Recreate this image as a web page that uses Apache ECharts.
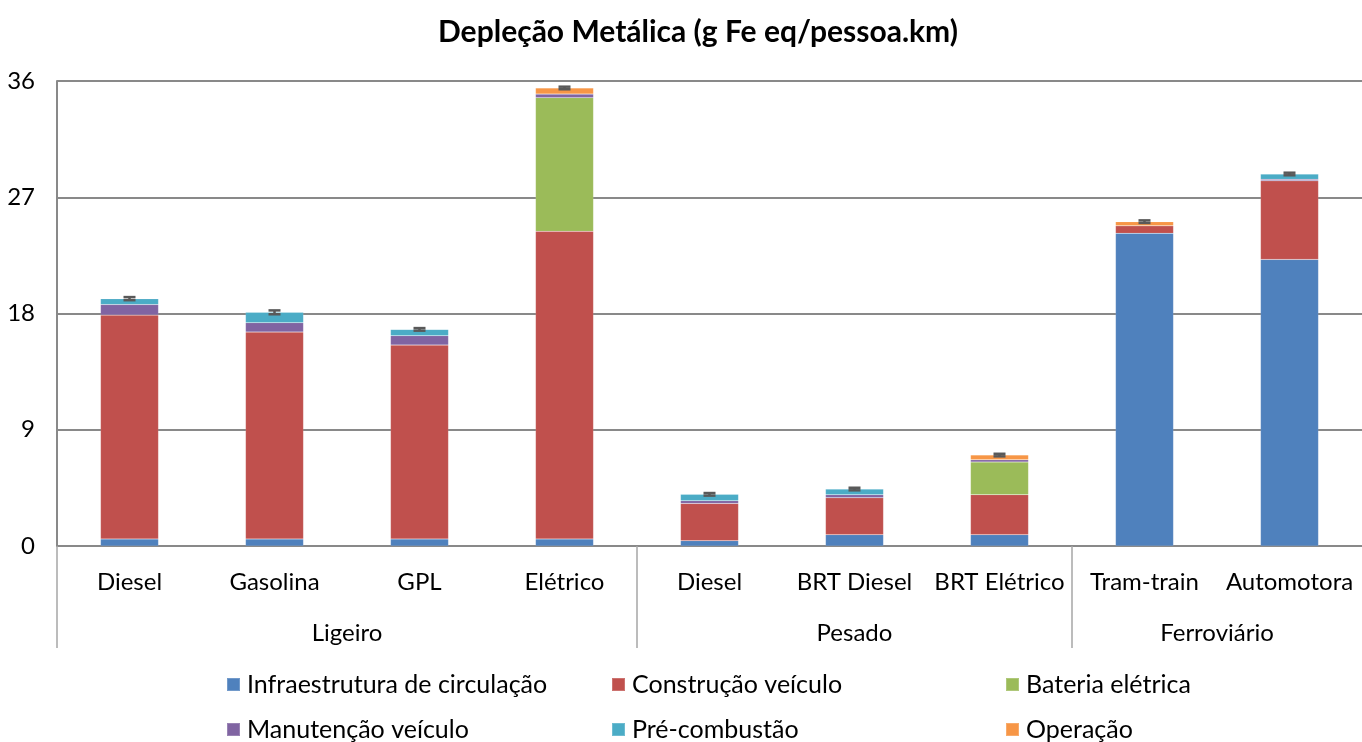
<!DOCTYPE html>
<html>
<head>
<meta charset="utf-8">
<script src="https://cdn.jsdelivr.net/npm/echarts@6/dist/echarts.min.js"></script>
<style>html,body{margin:0;padding:0;background:#fff;}#c{width:1362px;height:742px;}</style>
</head>
<body>
<div id="c"></div>
<script>
const categories = ['Diesel','Gasolina','GPL','Elétrico','Diesel','BRT Diesel','BRT Elétrico','Tram-train','Automotora'];
const groups = ['Ligeiro','Pesado','Ferroviário'];
const groupCenters = [2, 5.5, 8];
const groupBounds = [0, 4, 7];
const yTicks = [0, 9, 18, 27, 36];

const infraestrutura = [0.55,0.55,0.55,0.55,0.41,0.88,0.88,24.21,22.19];
const construcao     = [17.33,16.02,15.01,23.81,2.89,2.86,3.09,0.59,6.09];
const bateria        = [0,0,0,10.35,0,0,2.53,0,0];
const manutencao     = [0.81,0.72,0.72,0.28,0.21,0.23,0.18,0,0.11];
const precombustao   = [0.46,0.80,0.49,0,0.49,0.44,0,0,0.41];
const operacao       = [0,0,0,0.47,0,0,0.36,0.31,0];
const erro           = [0.12,0.15,0.10,0.10,0.10,0.10,0.10,0.10,0.10];

const seriesDefs = [
  ['Infraestrutura de circulação', infraestrutura, '#4F81BD'],
  ['Construção veículo', construcao, '#C0504D'],
  ['Bateria elétrica', bateria, '#9BBB59'],
  ['Manutenção veículo', manutencao, '#8064A2'],
  ['Pré-combustão', precombustao, '#4BACC6'],
  ['Operação', operacao, '#F79646']
];
const legendLefts = [221, 606, 1000, 221, 606, 1000];
const legendTops = [667, 667, 667, 712, 712, 712];
const totals = categories.map((_, i) => seriesDefs.reduce((s, d) => s + d[1][i], 0));

const FONT = 'Lato, "Noto Sans", sans-serif';
const chart = echarts.init(document.getElementById('c'));
const series = seriesDefs.map(d => ({
  name: d[0], type: 'bar', stack: 'total', data: d[1], barWidth: '40%',
  itemStyle: { color: d[2], borderColor: 'rgba(255,255,255,0.2)', borderWidth: 0.5 },
  xAxisIndex: 0, yAxisIndex: 0
}));
series.push({
  type: 'custom', name: 'erro', xAxisIndex: 0, yAxisIndex: 0, z: 10,
  data: categories.map((_, i) => [i, totals[i], erro[i]]),
  renderItem: function (params, api) {
    const i = api.value(0), t = api.value(1), e = api.value(2);
    const hi = api.coord([i, t + e]);
    const lo = api.coord([i, t - e]);
    const w = 6;
    const st = { stroke: '#595959', lineWidth: 2.5 };
    return { type: 'group', children: [
      { type: 'line', shape: { x1: hi[0], y1: hi[1], x2: lo[0], y2: lo[1] }, style: st },
      { type: 'line', shape: { x1: hi[0]-w, y1: hi[1], x2: hi[0]+w, y2: hi[1] }, style: st },
      { type: 'line', shape: { x1: lo[0]-w, y1: lo[1], x2: lo[0]+w, y2: lo[1] }, style: st }
    ]};
  }
});

const legends = seriesDefs.map((d, k) => ({
  left: legendLefts[k], top: legendTops[k],
  itemWidth: 13, itemHeight: 13, icon: 'rect', itemGap: 0,
  textStyle: { fontFamily: FONT, fontSize: 25, color: '#000', padding: [0, 0, 0, 2] },
  data: [d[0]]
}));

chart.setOption({
  animation: false,
  title: {
    text: 'Depleção Metálica (g Fe eq/pessoa.km)', left: 433, top: 12,
    textStyle: { fontFamily: FONT, fontSize: 30, fontWeight: 'bold', color: '#000' }
  },
  legend: legends,
  grid: { left: 57, right: 0, top: 81, bottom: 196, containLabel: false },
  xAxis: [
    {
      type: 'category', data: categories,
      axisLine: { show: true, lineStyle: { color: '#898989', width: 2 } },
      axisTick: { show: false },
      axisLabel: { interval: 0, margin: 24, fontFamily: FONT, fontSize: 24, color: '#000' }
    },
    {
      type: 'value', min: 0, max: 9, position: 'bottom',
      axisLine: { show: false },
      splitLine: { show: false },
      axisTick: { show: true, customValues: groupBounds, length: 102, lineStyle: { color: '#a6a6a6', width: 1.5 } },
      axisLabel: {
        customValues: groupCenters, margin: 75, fontFamily: FONT, fontSize: 24, color: '#000',
        formatter: function (v) { const k = groupCenters.indexOf(v); return k >= 0 ? groups[k] : ''; }
      }
    }
  ],
  yAxis: {
    type: 'value', min: yTicks[0], max: yTicks[yTicks.length-1], interval: 9,
    axisLine: { show: true, lineStyle: { color: '#898989', width: 2 } },
    axisTick: { show: false },
    splitLine: { show: true, lineStyle: { color: '#898989', width: 2 } },
    axisLabel: { margin: 22, fontFamily: FONT, fontSize: 24, color: '#000' }
  },
  series: series
});
</script>
</body>
</html>
